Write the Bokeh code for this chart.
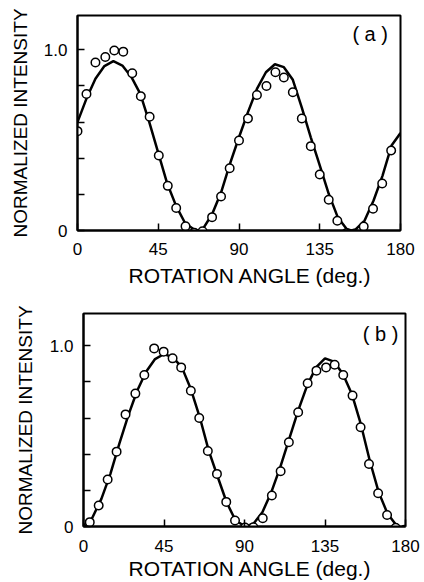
from bokeh.plotting import figure
from bokeh.layouts import column
from bokeh.models import FixedTicker, Label, Range1d, Title
from bokeh.embed import file_html
from bokeh.resources import INLINE

FONT = "Liberation Sans"

# ---- data ----
x_ticks = [0, 45, 90, 135, 180]
y_major_ticks = [0, 1.0]
y_minor_ticks = [0.2, 0.4, 0.6, 0.8]
x_title = "ROTATION ANGLE (deg.)"
y_title = "NORMALIZED INTENSITY"

# panel (a): measured points
angle_a = [0, 5, 10, 15.5, 20.5, 25.5, 30.5, 35.3, 40.2, 45.3, 50.3, 55, 60.2, 65,
           69.7, 75, 80, 84.8, 90, 95, 100, 105.3, 110.3, 115, 120, 125, 130, 135,
           140, 144.8, 149.7, 154.5, 159.5, 164.7, 169.8, 174.8]
intensity_a = [0.55, 0.756, 0.93, 0.96, 0.996, 0.99, 0.87, 0.743, 0.63, 0.415, 0.247,
               0.125, 0.024, -0.013, -0.004, 0.074, 0.188, 0.345, 0.498, 0.62, 0.75,
               0.80, 0.876, 0.847, 0.765, 0.62, 0.467, 0.31, 0.17, 0.054, -0.015,
               -0.018, 0.022, 0.12, 0.26, 0.443]
# panel (a): fitted curve
fit_angle_a = [0, 5, 10, 15, 20, 25, 30, 35, 40, 45, 50, 55, 60, 65, 67.5, 70, 75, 80,
               85, 90, 95, 100, 105, 110, 115, 120, 125, 130, 135, 140, 145, 150,
               152.5, 155, 160, 165, 170, 175, 180]
fit_a = [0.60, 0.73, 0.84, 0.91, 0.937, 0.913, 0.85, 0.756, 0.60, 0.43, 0.26, 0.135,
         0.04, 0.006, 0.0, 0.01, 0.09, 0.21, 0.37, 0.516, 0.655, 0.784, 0.876, 0.92,
         0.904, 0.834, 0.68, 0.516, 0.36, 0.203, 0.074, 0.008, 0.0, 0.006, 0.055,
         0.166, 0.304, 0.47, 0.54]

# panel (b): measured points
angle_b = [-1.5, 3.5, 8.5, 13.5, 18.5, 23.5, 29, 34, 39.5, 44.8, 49.8, 54.6, 60, 64.7,
           69.5, 74.6, 79.8, 84.7, 90.3, 95, 100.2, 105.3, 110.2, 114.8, 120, 125.3,
           130.2, 135.6, 140.4, 145.2, 150.4, 154.9, 159.6, 164.7, 169.7, 174.5, 179.5]
intensity_b = [0.0, 0.024, 0.116, 0.26, 0.414, 0.62, 0.735, 0.838, 0.985, 0.967, 0.93,
               0.88, 0.751, 0.60, 0.418, 0.291, 0.136, 0.033, -0.006, -0.004, 0.046,
               0.171, 0.306, 0.466, 0.632, 0.792, 0.862, 0.88, 0.895, 0.838, 0.724,
               0.549, 0.346, 0.184, 0.064, -0.007, -0.018]
# panel (b): fitted curve
fit_angle_b = [1, 5, 10, 15, 20, 25, 30, 35, 40, 45, 50, 55, 60, 65, 70, 75, 80, 85,
               90.5, 95, 100, 105, 110, 115, 120, 125, 130, 135, 140, 145, 150, 155,
               160, 165, 170, 175, 176.5]
fit_b = [0.0, 0.05, 0.153, 0.29, 0.457, 0.613, 0.751, 0.856, 0.926, 0.954, 0.935, 0.88,
         0.76, 0.604, 0.42, 0.275, 0.134, 0.033, 0.0, 0.015, 0.079, 0.19, 0.328, 0.485,
         0.641, 0.779, 0.88, 0.93, 0.912, 0.843, 0.733, 0.567, 0.365, 0.19, 0.07,
         0.005, 0.0]


def panel(tag, tag_x, tag_y, xs, ys, fx, fy, y_top, fw, fh, bl, bt, br, bb,
          x_std, y_lab_std, title_offset, title_standoff):
    p = figure(frame_width=fw, frame_height=fh,
               x_range=Range1d(0, 180), y_range=Range1d(0, y_top),
               output_backend="svg", toolbar_location=None,
               min_border_left=bl, min_border_top=bt,
               min_border_right=br, min_border_bottom=bb)
    p.frame_align = False
    p.grid.visible = False
    p.background_fill_color = "white"
    p.border_fill_color = "white"
    p.outline_line_color = "black"
    p.outline_line_width = 2
    p.outline_line_alpha = 1.0

    xa = p.xaxis[0]
    xa.ticker = FixedTicker(ticks=x_ticks)
    xa.major_tick_in = 7
    xa.major_tick_out = 0
    xa.minor_tick_in = 0
    xa.minor_tick_out = 0
    xa.axis_line_width = 2
    xa.major_tick_line_width = 1.5
    xa.major_label_text_font = FONT
    xa.major_label_text_font_size = "17px"
    xa.major_label_text_color = "black"
    xa.major_label_standoff = x_std

    ya = p.yaxis[0]
    ya.ticker = FixedTicker(ticks=y_major_ticks, minor_ticks=y_minor_ticks)
    ya.major_tick_in = 7
    ya.major_tick_out = 0
    ya.minor_tick_in = 7
    ya.minor_tick_out = 0
    ya.axis_line_width = 2
    ya.major_tick_line_width = 1.5
    ya.minor_tick_line_width = 1.5
    ya.minor_tick_line_color = "black"
    ya.major_label_overrides = {0: "0", 1: "1.0", "1": "1.0"}
    ya.major_label_text_font = FONT
    ya.major_label_text_font_size = "17px"
    ya.major_label_text_color = "black"
    ya.major_label_standoff = 10
    ya.axis_label = y_title
    ya.axis_label_text_font = FONT
    ya.axis_label_text_font_size = "19px"
    ya.axis_label_text_font_style = "normal"
    ya.axis_label_text_color = "black"
    ya.axis_label_standoff = y_lab_std

    p.line(fx, fy, line_color="black", line_width=2.5)
    p.scatter(xs, ys, marker="circle", size=8.5, fill_color="white",
              line_color="black", line_width=1.5)

    # x-axis title: a panel below the axis, shifted right as in the reference
    p.add_layout(Title(text=x_title, align="left", offset=title_offset,
                       standoff=title_standoff, text_font=FONT,
                       text_font_size="21px", text_font_style="normal",
                       text_color="black"), "below")
    p.add_layout(Label(x=tag_x, y=tag_y, text=tag, text_align="right",
                       text_baseline="middle", text_font=FONT,
                       text_font_size="20px", text_color="black"))
    return p


p1 = panel("( a )", 173, 1.085, angle_a, intensity_a, fit_angle_a, fit_a, 1.19,
           323, 215, 77, 15, 24, 68, 12, 10, 51, 9)
p2 = panel("( b )", 176, 1.065, angle_b, intensity_b, fit_angle_b, fit_b, 1.178,
           322, 213, 83, 15, 19, 56, 13, 11, 45, 0)

layout = column(p1, p2)
open("out.html", "w").write(file_html(layout, INLINE))
